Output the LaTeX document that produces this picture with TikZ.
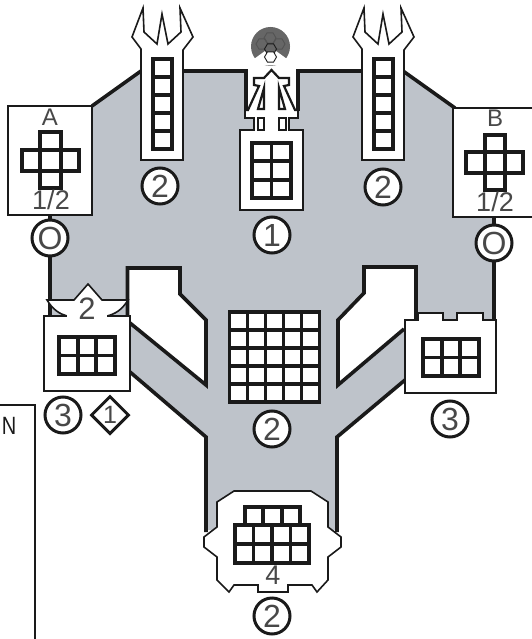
\documentclass[tikz,border=0pt]{standalone}
\usetikzlibrary{shapes.geometric}
\usepackage{fontspec}
\setmainfont{Liberation Sans}
\definecolor{bay}{HTML}{BEC3CA}
\definecolor{ink}{HTML}{1A1A1A}
\definecolor{txt}{HTML}{484848}
\definecolor{dome}{HTML}{666666}
\tikzset{
  heavy/.style={draw=ink,line width=3.6pt,line join=miter},
  thinline/.style={draw=ink,line width=1.6pt,line join=miter},
  midline/.style={draw=ink,line width=2.2pt,line join=miter},
  whitethin/.style={thinline,fill=white},
  whiteheavy/.style={heavy,fill=white},
  cellline/.style={draw=ink,line width=3.8pt},
  marker/.style={circle,draw=ink,line width=3pt,fill=white,minimum size=36pt,inner sep=0pt,text=txt,font=\fontsize{32}{32}\selectfont},
  diamark/.style={diamond,aspect=1,draw=ink,line width=3pt,fill=white,minimum size=38pt,inner sep=0pt},
  lbl/.style={text=txt,inner sep=0pt,font=\fontsize{24}{24}\selectfont},
  frac/.style={text=txt,inner sep=0pt,font=\fontsize{27}{27}\selectfont}
}
% x0 y0 x1 y1 nx ny
\newcommand{\cellgrid}[6]{%
  \fill[white] (#1,#2) rectangle (#3,#4);
  \draw[cellline] (#1,#2) rectangle (#3,#4);
  \foreach \ci in {1,...,#5}{
    \pgfmathsetmacro{\gx}{#1+(#3-#1)*\ci/#5}
    \draw[cellline] (\gx,#2) -- (\gx,#4);}
  \foreach \cj in {1,...,#6}{
    \pgfmathsetmacro{\gy}{#2+(#4-#2)*\cj/#6}
    \draw[cellline] (#1,\gy) -- (#3,\gy);}
}
\newcommand{\hexat}[4]{%
  \draw[#4] (#1+#3,#2) -- (#1+#3/2,#2+0.866*#3) -- (#1-#3/2,#2+0.866*#3) -- (#1-#3,#2) -- (#1-#3/2,#2-0.866*#3) -- (#1+#3/2,#2-0.866*#3) -- cycle;
}
\newcommand{\forktower}[1]{%
  \begin{scope}[xshift=#1 pt]
  \draw[whitethin] (141,160) -- (141,49) -- (132,37) -- (143,8) -- (144,32) -- (157,44) -- (162,14) -- (168,44) -- (181,32) -- (180,8) -- (193,37) -- (183,50) -- (183,160) -- cycle;
  \cellgrid{153}{59}{172}{149}{1}{5}
  \end{scope}
}
\begin{document}
\begin{tikzpicture}[x=1pt,y=-1pt]
\useasboundingbox (0,0) rectangle (532,639);
\fill[white] (0,0) rectangle (532,639);
% bay
\fill[bay] (92,106) -- (141,71) -- (246,71) -- (246,110) -- (298,110) -- (298,71) -- (361,71) -- (403,71) -- (455,108) -- (494,217) -- (494,320) -- (405,320) -- (405,380) -- (337,437) -- (337,530) -- (206,530) -- (206,437) -- (130,372) -- (130,316) -- (50,316) -- (50,215) -- cycle;
% heavy outline
\draw[heavy] (92,106) -- (141,71);
\draw[heavy] (183,71) -- (246,71) -- (246,111);
\draw[heavy] (298,111) -- (298,71) -- (361,71);
\draw[heavy] (403,71) -- (455,108);
\draw[heavy] (494,217) -- (494,320);
\draw[heavy] (50,215) -- (50,316);
\draw[heavy] (130,372) -- (206,437) -- (206,532);
\draw[heavy] (405,380) -- (337,437) -- (337,532);
% white wedges
\draw[whiteheavy] (127.5,316) -- (127.5,268) -- (180,268) -- (180,294) -- (206,320) -- (206,385) -- (130,323);
\draw[whiteheavy] (404,329) -- (338,385) -- (338,320) -- (364,293) -- (364,267) -- (416,267) -- (416,320);
% towers
\forktower{0}
\forktower{221}
% centre building
\draw[whitethin] (245,110) -- (245,118) -- (254,118) -- (254,130) -- (240,130) -- (240,210) -- (303,210) -- (303,130) -- (289,130) -- (289,118) -- (298,118) -- (298,110);
\fill[white] (248,72) rectangle (296,117);
\fill[white] (255,117) rectangle (288,132);
\cellgrid{252}{143}{291}{198}{2}{3}
% arrow
\draw[midline] (245,110) -- (248,110) -- (259,86) -- (254,85) -- (254,78) -- (264,78) -- (271.5,70) -- (279,78) -- (289,78) -- (289,85) -- (284,86) -- (295,110) -- (298,110);
\draw[midline] (264,88) -- (264,109) -- (258,109) -- cycle;
\draw[midline] (279,88) -- (279,109) -- (285,109) -- cycle;
\draw[midline] (258,118) rectangle (264,130);
\draw[midline] (279,118) rectangle (286,130);
% dome
\fill[dome] (270.5,46.5) circle[radius=19.5];
\fill[white] (270.5,47) -- (245,65.5) -- (296,65.5) -- cycle;
\hexat{270}{38}{6}{draw=ink!75,line width=0.9pt}
\hexat{262}{44}{6}{draw=ink!75,line width=0.9pt}
\hexat{279}{44}{6}{draw=ink!75,line width=0.9pt}
\hexat{270.5}{49}{6}{draw=ink,line width=0.9pt,fill=dome}
\hexat{270.5}{57}{6}{draw=ink,line width=0.9pt,fill=white}
% box A
\draw[whitethin] (8,106) rectangle (92,215);
\node[lbl] (labA) at (50,117) {A};
\draw[cellline,fill=white] (22,150) rectangle (79,171);
\draw[cellline,fill=white] (40,132) rectangle (61,188);
\draw[cellline] (22,150) -- (79,150) (22,171) -- (79,171);
\node[frac] (fracA) at (51,200) {1/2};
% box B
\draw[whitethin] (534,108) -- (453,108) -- (453,217) -- (534,217);
\node[lbl] (labB) at (495,118) {B};
\draw[cellline,fill=white] (466,152) rectangle (523,173);
\draw[cellline,fill=white] (485,135) rectangle (505,190);
\draw[cellline] (466,152) -- (523,152) (466,173) -- (523,173);
\node[frac] (fracB) at (495,202) {1/2};
% big grid
\cellgrid{229.5}{312}{319.5}{402}{5}{5}
% left lower box
\draw[thinline,fill=white] (47,300) .. controls (53,310) and (60,314) .. (67,316) -- (107,316) .. controls (115,314) and (122,310) .. (128,300) -- (102,300) -- (88,284) -- (74,300) -- cycle;
\draw[whitethin] (67,316) -- (44,316) -- (44,391) -- (130,391) -- (130,316) -- (107,316);
\fill[white] (67,313) rectangle (107,318);
\node[inner sep=0pt,text=txt,font=\fontsize{31}{31}\selectfont] (lab2) at (87,309) {2};
\cellgrid{59}{337}{115}{374}{3}{2}
% right lower box
\draw[whitethin] (405,320) -- (418,320) -- (418,313) -- (443,313) -- (443,320) -- (457,320) -- (457,313) -- (483,313) -- (483,320) -- (496,320) -- (496,393) -- (405,393) -- cycle;
\cellgrid{423}{339}{479}{376}{3}{2}
% bottom box
\draw[whitethin] (234,491) -- (311,491) -- (328,502) -- (328,527) -- (341,537) -- (341,547) -- (328,557) -- (328,580) -- (317,592) -- (312,585) -- (288,585) -- (288,592) -- (258,592) -- (258,585) -- (234,585) -- (229,592) -- (217,580) -- (217,557) -- (204,547) -- (204,537) -- (217,527) -- (217,502) -- cycle;
\cellgrid{245}{507}{300}{525}{3}{1}
\cellgrid{235}{525}{309}{563}{4}{2}
\node[frac] (lab4) at (273,575) {4};
% markers
\node[marker] (mO1) at (50,238) {O};
\node[marker] (mO2) at (494,243) {O};
\node[marker] (m1) at (272,235) {1};
\node[marker] (m2a) at (160,186) {2};
\node[marker] (m2b) at (383,187) {2};
\node[marker] (m2c) at (272,429) {2};
\node[marker] (m2d) at (272,616) {2};
\node[marker] (m3a) at (63,415) {3};
\node[marker] (m3b) at (450,419) {3};
\node[diamark] (d1) at (110,415) {};
\node[text=txt,inner sep=0pt,font=\fontsize{25}{25}\selectfont] (d1t) at (d1.center) {1};
% N box
\draw[thinline] (0,405) -- (35,405) -- (35,639);
\node[inner sep=0pt,text=ink,font=\fontsize{25}{25}\selectfont] (labN) at (9,426) {\scalebox{0.8}[1]{N}};
\end{tikzpicture}
\end{document}
